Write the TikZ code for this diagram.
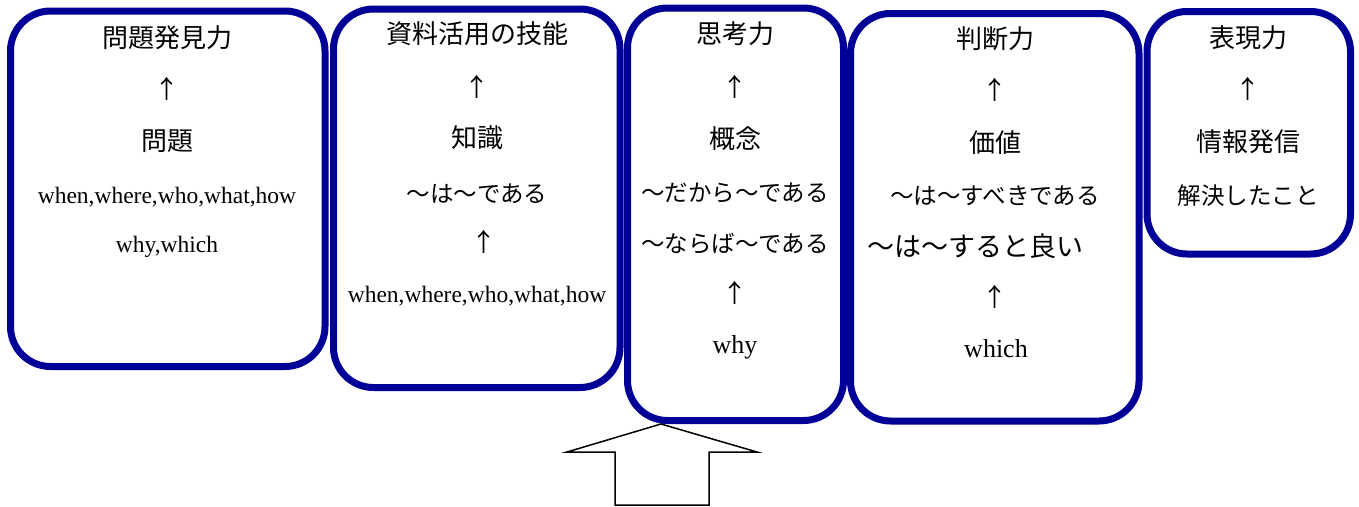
\documentclass[tikz,border=0pt]{standalone}
\usepackage{fontspec}
\setmainfont{Liberation Serif}
\newfontfamily\jp{Noto Sans CJK JP}
\definecolor{navy}{RGB}{0,0,150}
\begin{document}
\begin{tikzpicture}[x=1pt,y=-1pt,
  box/.style={draw=navy,line width=7pt,rounded corners=40pt,inner sep=0pt},
  jl/.style={font=\jp\fontsize{26}{30}\selectfont,inner sep=0pt,anchor=center},
  jm/.style={font=\jp\fontsize{23.5}{28}\selectfont,inner sep=0pt,anchor=center},
  up/.style={font=\jp\fontsize{25}{30}\selectfont,inner sep=0pt,anchor=center},
  en/.style={font=\fontsize{23.5}{28}\selectfont,inner sep=0pt,anchor=base},
  eb/.style={font=\fontsize{26}{30}\selectfont,inner sep=0pt,anchor=base},
  bigarrow/.style={draw=black,line width=1.5pt,fill=white,line join=miter}]
\useasboundingbox (0,0) rectangle (1359,506);
\node[box,minimum width=314.5pt,minimum height=355.5pt] (b1) at (167.75,188.75) {};
\node[box,minimum width=286.5pt,minimum height=378.5pt] (b2) at (476.75,198.25) {};
\node[box,minimum width=216pt,minimum height=412.5pt] (b3) at (735.5,214.25) {};
\node[box,minimum width=288.5pt,minimum height=407.5pt] (b4) at (994.75,217.25) {};
\node[box,minimum width=203.5pt,minimum height=242.5pt] (b5) at (1248.75,132.75) {};
% box 1
\node[jl] (t1) at (167,38) {問題発見力};
\node[up] (a1) at (167,89) {↑};
\node[jl] (p1) at (167,141) {問題};
\node[en] (w1) at (167,203) {when,where,who,what,how};
\node[en] (w1b) at (167,252) {why,which};
% box 2
\node[jl] (t2) at (477,34) {資料活用の技能};
\node[up] (a2) at (477,87) {↑};
\node[jl] (p2) at (477,138) {知識};
\node[jm] (s2) at (477,193.5) {～は～である};
\node[up] (a2b) at (484,242) {↑};
\node[en] (w2) at (477,302) {when,where,who,what,how};
% box 3
\node[jl] (t3) at (735,34) {思考力};
\node[up] (a3) at (735,87) {↑};
\node[jl] (p3) at (735,139) {概念};
\node[jm] (s3) at (735,192.5) {～だから～である};
\node[jm] (s3b) at (735,244) {～ならば～である};
\node[up] (a3b) at (735,293) {↑};
\node[eb] (w3) at (735,353) {why};
% box 4
\node[jl] (t4) at (995,39) {判断力};
\node[up] (a4) at (995,90) {↑};
\node[jl] (p4) at (995,143) {価値};
\node[jm] (s4) at (995,196) {～は～すべきである};
\node[font=\jp\fontsize{27}{30}\selectfont,inner sep=0pt] (s4b) at (975,246) {～は～すると良い};
\node[up] (a4b) at (995,297) {↑};
\node[eb] (w4) at (996,357) {which};
% box 5
\node[jl] (t5) at (1248,38) {表現力};
\node[up] (a5) at (1248,89) {↑};
\node[jl] (p5) at (1248,142) {情報発信};
\node[jm] (s5) at (1248,196) {解決したこと};
% big arrow
\coordinate (tip) at (661,424);
\draw[bigarrow] (tip) -- (757,452) -- (709,452) -- (709,505) -- (615,505) -- (615,452) -- (567,452) -- cycle;
\end{tikzpicture}
\end{document}
